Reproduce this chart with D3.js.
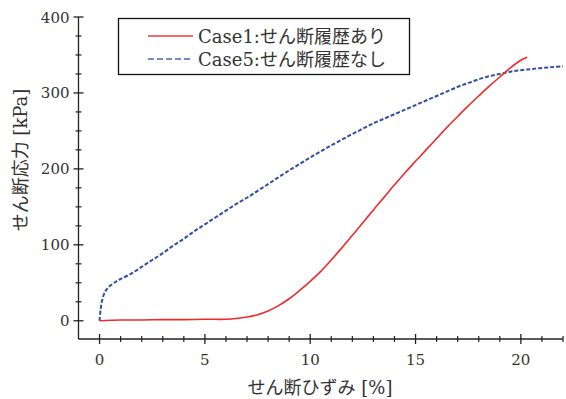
<!DOCTYPE html>
<html>
<head>
<meta charset="utf-8">
<script src="https://cdn.jsdelivr.net/npm/d3@7"></script>
<style>
  body { margin: 0; background: #fff; }
  svg text { font-family: "DejaVu Serif", "Noto Sans CJK JP", serif; fill: #333; }
</style>
</head>
<body>
<svg id="chart" width="566" height="399"></svg>
<script>
// Shear strain [%] vs shear stress [kPa]
const case1Strain = [0, 1, 2, 3, 4, 5, 6, 6.5, 7, 7.5, 8, 8.5, 9, 9.5, 10, 10.5, 11, 11.5, 12, 12.5, 13, 13.5, 14, 14.5, 15, 15.5, 16, 16.5, 17, 17.5, 18, 18.5, 19, 19.5, 20, 20.3];
const case1Stress = [0, 1, 1, 1.5, 1.5, 2, 2, 3, 5, 8, 13, 20, 29, 40, 52, 65, 80, 96, 112.5, 129, 146, 162.5, 179, 195, 210, 225, 240, 255, 269, 283, 296, 309, 321, 333, 343, 347];

const case5Strain = [0, 0.05, 0.15, 0.3, 0.5, 0.8, 1, 1.5, 2, 2.5, 3, 3.5, 4, 4.5, 5, 5.5, 6, 6.5, 7, 7.5, 8, 8.5, 9, 9.5, 10, 10.5, 11, 11.5, 12, 12.5, 13, 13.5, 14, 14.5, 15, 15.5, 16, 16.5, 17, 17.5, 18, 18.5, 19, 19.5, 20, 20.5, 21, 21.5, 22];
const case5Stress = [0, 15, 30, 40, 46, 52, 55, 62, 71, 80, 89, 99, 108, 118, 127, 136, 145, 154, 162, 171, 180, 189, 198, 206.5, 215, 223, 231, 238.5, 246, 253, 260, 266, 272, 278, 284, 290, 296, 302, 308, 313, 318, 322, 325, 328, 330, 331.5, 333, 334, 335];

const seriesNames = ["Case1:せん断履歴あり", "Case5:せん断履歴なし"];
const xMajorTicks = [0, 5, 10, 15, 20];
const yMajorTicks = [0, 100, 200, 300, 400];
const xTitle = "せん断ひずみ [%]";
const yTitle = "せん断応力 [kPa]";

const svg = d3.select("#chart");
const x = d3.scaleLinear().domain([-1, 22]).range([78.5, 563]);
const y = d3.scaleLinear().domain([-24, 400]).range([339, 17]);

const axisColor = "#222";

// Axis lines
svg.append("line").attr("x1", x(-1)).attr("x2", x(22)).attr("y1", y(-24)).attr("y2", y(-24))
  .attr("stroke", axisColor).attr("stroke-width", 1.3);
svg.append("line").attr("x1", x(-1)).attr("x2", x(-1)).attr("y1", y(-24)).attr("y2", y(400))
  .attr("stroke", axisColor).attr("stroke-width", 1.3);

// Ticks crossing the axes
const xMinor = d3.range(0, 23, 1).filter(v => !xMajorTicks.includes(v));
const yMinor = d3.range(0, 401, 25).filter(v => !yMajorTicks.includes(v));
const y0 = y(-24), x0 = x(-1);

svg.append("g").selectAll("line").data(xMajorTicks).join("line")
  .attr("x1", d => x(d)).attr("x2", d => x(d)).attr("y1", y0 - 5).attr("y2", y0 + 5)
  .attr("stroke", axisColor).attr("stroke-width", 1.3);
svg.append("g").selectAll("line").data(xMinor).join("line")
  .attr("x1", d => x(d)).attr("x2", d => x(d)).attr("y1", y0 - 3).attr("y2", y0 + 3)
  .attr("stroke", axisColor).attr("stroke-width", 1.2);
svg.append("g").selectAll("line").data(yMajorTicks).join("line")
  .attr("x1", x0 - 5).attr("x2", x0 + 5).attr("y1", d => y(d)).attr("y2", d => y(d))
  .attr("stroke", axisColor).attr("stroke-width", 1.3);
svg.append("g").selectAll("line").data(yMinor).join("line")
  .attr("x1", x0 - 3).attr("x2", x0 + 3).attr("y1", d => y(d)).attr("y2", d => y(d))
  .attr("stroke", axisColor).attr("stroke-width", 1.2);

// Tick labels
svg.append("g").selectAll("text").data(xMajorTicks).join("text")
  .attr("x", d => x(d)).attr("y", y0 + 26).attr("text-anchor", "middle")
  .attr("font-size", 15).text(d => d);
svg.append("g").selectAll("text").data(yMajorTicks).join("text")
  .attr("x", x0 - 9).attr("y", d => y(d) + 5.5).attr("text-anchor", "end")
  .attr("font-size", 15).text(d => d);

// Axis titles
svg.append("text").attr("x", 320).attr("y", 394).attr("text-anchor", "middle")
  .attr("font-size", 18).text(xTitle);
svg.append("text").attr("transform", "translate(27,160) rotate(-90)")
  .attr("text-anchor", "middle").attr("font-size", 18).text(yTitle);

// Curves
const line = d3.line().x(d => x(d[0])).y(d => y(d[1])).curve(d3.curveCatmullRom.alpha(0.5));
const case1 = d3.zip(case1Strain, case1Stress);
const case5 = d3.zip(case5Strain, case5Stress);

svg.append("path").datum(case5).attr("d", line).attr("fill", "none")
  .attr("stroke", "#2f4fa3").attr("stroke-width", 2).attr("stroke-dasharray", "4,2");
svg.append("path").datum(case1).attr("d", line).attr("fill", "none")
  .attr("stroke", "#ee2a2a").attr("stroke-width", 1.6);

// Legend
const lg = svg.append("g");
lg.append("rect").attr("x", 118.5).attr("y", 18.5).attr("width", 291).attr("height", 56)
  .attr("fill", "#fff").attr("stroke", "#111").attr("stroke-width", 1.3);
const legendStyles = [
  { color: "#ee3a3a", dash: null, w: 1.5 },
  { color: "#4a66b0", dash: "6,3", w: 1.5 }
];
seriesNames.forEach((name, i) => {
  const ly = 36 + i * 23;
  lg.append("line").attr("x1", 148).attr("x2", 193).attr("y1", ly).attr("y2", ly)
    .attr("stroke", legendStyles[i].color).attr("stroke-width", legendStyles[i].w)
    .attr("stroke-dasharray", legendStyles[i].dash);
  lg.append("text").attr("x", 198).attr("y", ly + 6.5).attr("font-size", 18).text(name);
});
</script>
</body>
</html>
